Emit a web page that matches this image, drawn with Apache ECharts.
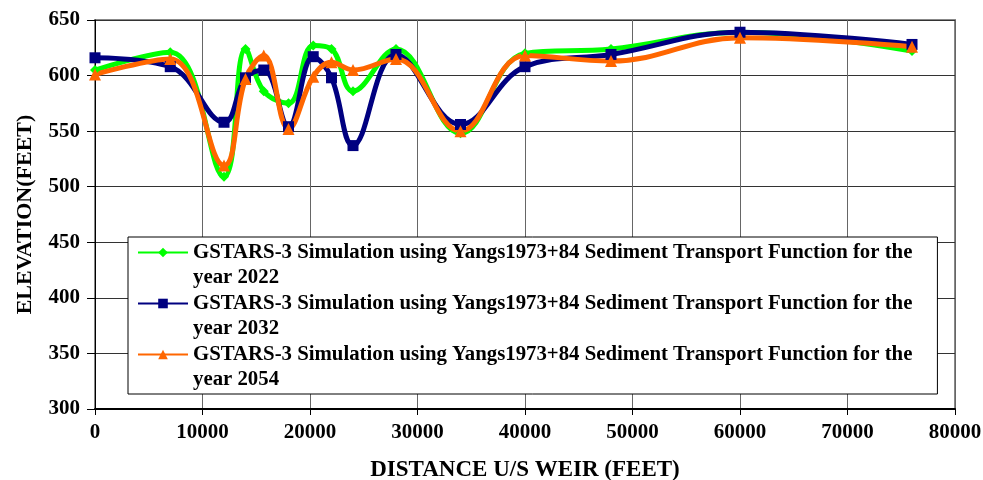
<!DOCTYPE html>
<html>
<head>
<meta charset="utf-8">
<script src="https://cdn.jsdelivr.net/npm/echarts@6/dist/echarts.min.js"></script>
<style>
html,body{margin:0;padding:0;background:#fff;}
#chart{width:983px;height:480px;}
</style>
</head>
<body>
<div id="chart"></div>
<script>
var distance = [0, 7000, 12000, 14000, 15700, 18000, 20300, 22000, 24000, 28000, 34000, 40000, 48000, 60000, 76000];
var elev2022 = [605, 621, 509, 624, 586, 575, 627, 624, 586, 624, 548, 620, 624, 639, 622];
var elev2032 = [616, 608, 558, 598, 605, 554, 617, 598, 537, 619, 556, 608, 619, 639, 628];
var elev2054 = [601, 615, 519, 597, 618, 552, 599, 612, 605, 615, 550, 618, 613, 634, 626];
var seriesNames = [
  'GSTARS-3 Simulation using Yangs1973+84 Sediment Transport Function for the\nyear 2022',
  'GSTARS-3 Simulation using Yangs1973+84 Sediment Transport Function for the\nyear 2032',
  'GSTARS-3 Simulation using Yangs1973+84 Sediment Transport Function for the\nyear 2054'
];
var xTitle = 'DISTANCE U/S WEIR (FEET)';
var yTitle = 'ELEVATION(FEET)';

function pairs(xs, ys) { return xs.map(function (x, i) { return [x, ys[i]]; }); }

var font = 'Liberation Serif, Times New Roman, serif';
var chart = echarts.init(document.getElementById('chart'), null, {renderer: 'canvas'});
chart.setOption({
  animation: false,
  backgroundColor: '#fff',
  grid: {left: 95, right: 28, top: 20, bottom: 71, show: true, borderColor: '#888', borderWidth: 2,
    backgroundColor: 'transparent', outerBoundsMode: 'none', containLabel: false},
  legend: {
    orient: 'vertical',
    left: 128, top: 237,
    padding: [-22, 25, 2, 9],
    backgroundColor: '#fff',
    borderColor: '#000',
    borderWidth: 1,
    itemWidth: 50, itemHeight: 12,
    itemGap: -24,
    formatter: function (name) { return '\n' + name; },
    textStyle: {fontFamily: font, fontWeight: 'bold', fontSize: 20.8, color: '#000', lineHeight: 25},
    data: seriesNames
  },
  xAxis: {
    type: 'value', min: 0, max: 80000, interval: 10000,
    name: xTitle, nameLocation: 'middle', nameGap: 50,
    nameTextStyle: {fontFamily: font, fontWeight: 'bold', fontSize: 23, color: '#000'},
    axisLine: {show: true, onZero: false, lineStyle: {color: '#000', width: 2}},
    axisTick: {show: true, length: 6, lineStyle: {color: '#000'}},
    axisLabel: {fontFamily: font, fontWeight: 'bold', fontSize: 21, color: '#000', margin: 13,
      formatter: function (v) { return String(v); }},
    splitLine: {show: true, lineStyle: {color: '#666', width: 1}}
  },
  yAxis: {
    type: 'value', min: 300, max: 650, interval: 50,
    name: yTitle, nameLocation: 'middle', nameGap: 59, nameRotate: 90,
    nameTextStyle: {fontFamily: font, fontWeight: 'bold', fontSize: 22, color: '#000'},
    axisLine: {show: true, lineStyle: {color: '#000', width: 1}},
    axisTick: {show: true, length: 8, lineStyle: {color: '#000'}},
    axisLabel: {fontFamily: font, fontWeight: 'bold', fontSize: 21, color: '#000', margin: 15},
    splitLine: {show: true, lineStyle: {color: '#333', width: 1}}
  },
  series: [
    {name: seriesNames[0], type: 'line', smooth: 0.4, data: pairs(distance, elev2022),
     symbol: 'diamond', symbolSize: 10, showAllSymbol: true,
     lineStyle: {color: '#00FF00', width: 5}, itemStyle: {color: '#00FF00'}},
    {name: seriesNames[1], type: 'line', smooth: 0.4, data: pairs(distance, elev2032),
     symbol: 'rect', symbolSize: 11, showAllSymbol: true,
     lineStyle: {color: '#000080', width: 5}, itemStyle: {color: '#000080'}},
    {name: seriesNames[2], type: 'line', smooth: 0.4, data: pairs(distance, elev2054),
     symbol: 'triangle', symbolSize: 12, showAllSymbol: true,
     lineStyle: {color: '#FF6600', width: 5}, itemStyle: {color: '#FF6600'}}
  ]
});
</script>
</body>
</html>
